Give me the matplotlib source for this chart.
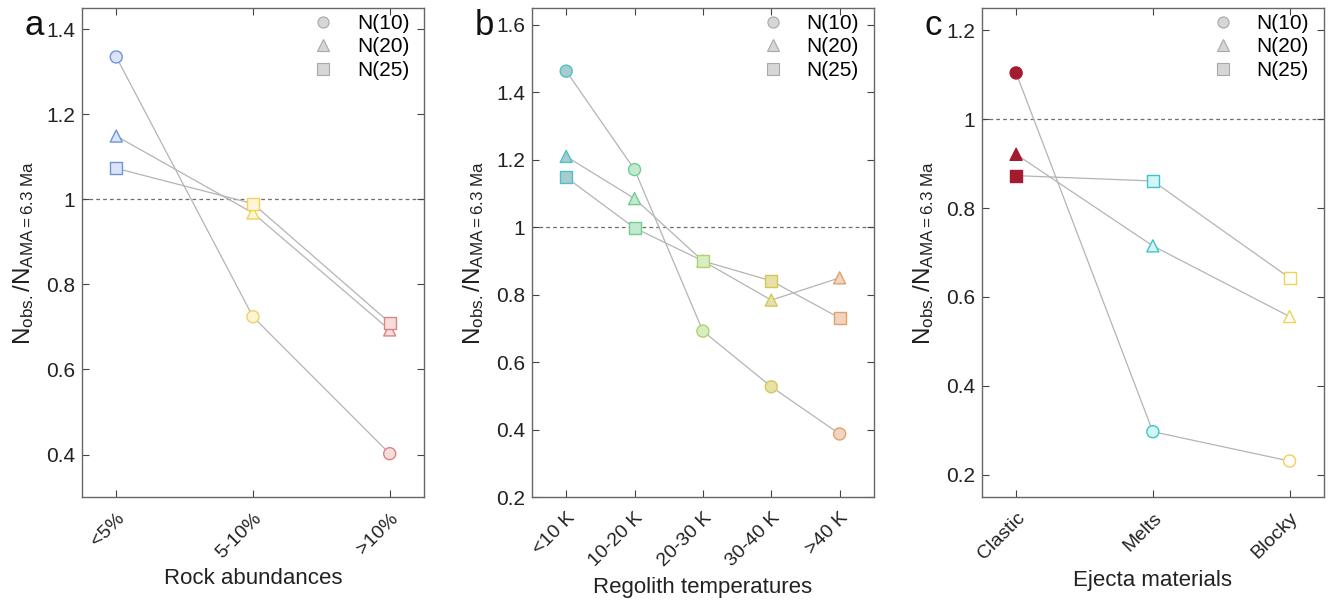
import numpy as np
import matplotlib
matplotlib.use("Agg")
import matplotlib.pyplot as plt
from matplotlib.lines import Line2D

plt.rcParams['font.family'] = ['Liberation Sans', 'DejaVu Sans']
plt.rcParams['mathtext.fontset'] = 'custom'
plt.rcParams['mathtext.rm'] = 'Liberation Sans'
plt.rcParams['mathtext.it'] = 'Liberation Sans'

# panel a - rock abundances
cats_a = ['<5%', '5-10%', '>10%']
a_n10 = [1.335, 0.724, 0.402]
a_n20 = [1.149, 0.968, 0.693]
a_n25 = [1.073, 0.990, 0.710]
a_edge = ['#7194d8', '#f0d25e', '#d98585']
a_face = ['#dbe3f8', '#fdf6d6', '#f7dcdc']

# panel b - regolith temperatures
cats_b = ['<10 K', '10-20 K', '20-30 K', '30-40 K', '>40 K']
b_n10 = [1.463, 1.171, 0.692, 0.527, 0.387]
b_n20 = [1.210, 1.085, 0.900, 0.784, 0.850]
b_n25 = [1.148, 0.998, 0.900, 0.841, 0.731]
b_edge = ['#4fc0c8', '#6fd08e', '#a8d66c', '#d4c858', '#e3a06c']
b_face = ['#a8ccce', '#c3ead0', '#d9edc0', '#e7e1a8', '#f1d4bf']

# panel c - ejecta materials
cats_c = ['Clastic', 'Melts', 'Blocky']
c_n10 = [1.104, 0.297, 0.231]
c_n20 = [0.921, 0.715, 0.556]
c_n25 = [0.873, 0.861, 0.643]
c_edge = ['#a31b2f', '#3fc5c9', '#f0d255']
c_face = ['#a31b2f', '#d2f5f5', '#ffffff']

panels = [
    ('a', cats_a, [a_n10, a_n20, a_n25], a_edge, a_face, 'Rock abundances', (0.3, 1.45), [0.4, 0.6, 0.8, 1.0, 1.2, 1.4]),
    ('b', cats_b, [b_n10, b_n20, b_n25], b_edge, b_face, 'Regolith temperatures', (0.2, 1.65), [0.2, 0.4, 0.6, 0.8, 1.0, 1.2, 1.4, 1.6]),
    ('c', cats_c, [c_n10, c_n20, c_n25], c_edge, c_face, 'Ejecta materials', (0.15, 1.25), [0.2, 0.4, 0.6, 0.8, 1.0, 1.2]),
]
markers = ['o', '^', 's']
labels = ['N(10)', 'N(20)', 'N(25)']

fig = plt.figure(figsize=(13.3, 6.01), dpi=100)
lefts = [0.0617, 0.4, 0.7383]

for left, (letter, cats, series, edges, faces, xlab, ylim, yt) in zip(lefts, panels):
    ax = fig.add_axes([left, 0.173, 0.257, 0.8136])
    x = np.arange(1, len(cats) + 1)
    ax.axhline(1.0, color='#6e6e6e', lw=0.9, ls=(0, (3, 2.5)), zorder=1)
    for vals, m in zip(series, markers):
        ax.plot(x, vals, color='#b4b4b4', lw=0.9, zorder=2)
        ax.scatter(x, vals, marker=m, s=75, c=faces, edgecolors=edges, linewidths=1.0, zorder=3)
    ax.set_xlim(0.75 if len(cats) == 3 else 0.5, len(cats) + (0.25 if len(cats) == 3 else 0.5))
    ax.set_ylim(*ylim)
    ax.set_yticks(yt)
    ax.set_yticklabels(['1' if v == 1.0 else f'{v:.1f}' for v in yt])
    ax.set_xticks(x)
    ax.set_xticklabels(cats, rotation=45, ha='right', rotation_mode='anchor')
    ax.tick_params(direction='in', top=True, right=True, labelsize=15, length=5,
                   color='#444444', labelcolor='#222222', pad=5)
    ax.tick_params(axis='x', labelsize=14, pad=9)
    for sp in ax.spines.values():
        sp.set_color('#666666')
        sp.set_linewidth(1.0)
    ax.set_xlabel(xlab, fontsize=16, color='#222222', labelpad=5)
    ax.set_ylabel(r'$\mathregular{N_{obs.}/N_{AMA=6.3\ Ma}}$', fontsize=17.5, color='#222222', labelpad=7)
    ax.text(-0.167, 0.945, letter, transform=ax.transAxes, fontsize=25, va='baseline', ha='left', color='#111111')

    handles = [Line2D([], [], ls='none', marker=m, markersize=8, markerfacecolor='#d6d6d6',
                      markeredgecolor='#a8a8a8', markeredgewidth=0.8) for m in markers]
    ax.legend(handles, labels, loc='upper right', bbox_to_anchor=(1.0, 1.018), frameon=False, fontsize=15,
              handletextpad=0.6, labelspacing=0.22, borderaxespad=0.3)

fig.savefig('out.png', dpi=100)
